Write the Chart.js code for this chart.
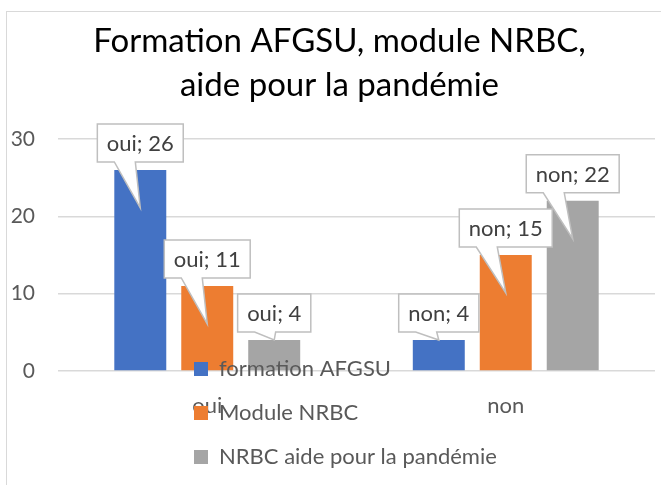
<!DOCTYPE html>
<html><head><meta charset="utf-8">
<script src="https://cdn.jsdelivr.net/npm/chart.js@4.4.1/dist/chart.umd.min.js"></script>
<style>
html,body{margin:0;padding:0;background:#fff;overflow:hidden;}
#wrap{position:relative;width:661px;height:485px;}
#frame{position:absolute;left:6px;top:11px;width:720px;height:540px;border:1.5px solid #d9d9d9;box-sizing:border-box;}
canvas{position:absolute;left:0;top:0;}
</style></head><body>
<div id="wrap"><div id="frame"></div><canvas id="c" width="661" height="485"></canvas></div>
<script>
const titleLines = ['Formation AFGSU, module NRBC,', 'aide pour la pandémie'];
const categories = ['oui', 'non'];
const seriesNames = ['formation AFGSU', 'Module NRBC', 'NRBC aide pour la pandémie'];
const formationAFGSU = [26, 4];
const moduleNRBC = [11, 15];
const nrbcPandemie = [4, 22];
const yTicks = [0, 10, 20, 30];
const seriesColors = ['#4472C4', '#ED7D31', '#A5A5A5'];

const FONT = 'Lato';

const calloutPlugin = {
  id: 'callouts',
  afterDatasetsDraw(chart) {
    const ctx = chart.ctx;
    ctx.save();
    ctx.font = '22px ' + FONT;
    chart.data.datasets.forEach((ds, i) => {
      const meta = chart.getDatasetMeta(i);
      meta.data.forEach((bar, j) => {
        const text = chart.data.labels[j] + '; ' + ds.data[j];
        const w = ctx.measureText(text).width + 19;
        const h = 38;
        const left = bar.x - w / 2, right = bar.x + w / 2;
        const bottom = bar.y - 8, top = bottom - h;
        const barH = bar.base - bar.y;
        const tipY = barH > 40 ? bar.y + 38 : bar.y;
        ctx.beginPath();
        ctx.moveTo(left, top);
        ctx.lineTo(right, top);
        ctx.lineTo(right, bottom);
        ctx.lineTo(left + 38, bottom);
        ctx.lineTo(bar.x, tipY);
        ctx.lineTo(left + 17, bottom);
        ctx.lineTo(left, bottom);
        ctx.closePath();
        ctx.fillStyle = '#ffffff';
        ctx.fill();
        ctx.strokeStyle = '#bfbfbf';
        ctx.lineWidth = 1.5;
        ctx.stroke();
        ctx.fillStyle = '#404040';
        ctx.textAlign = 'center';
        ctx.textBaseline = 'middle';
        ctx.fillText(text, bar.x, (top + bottom) / 2 + 1);
      });
    });
    ctx.restore();
  }
};

const legendPlace = {
  id: 'legendPlace',
  beforeUpdate(chart) {
    const lg = chart.legend;
    if (lg && !lg._onTop) {
      lg._onTop = true;
      lg._layers = () => [{ z: 1, draw: (ca) => lg.draw(ca) }];
    }
  },
  afterLayout(chart) {
    const lg = chart.legend;
    const ca = chart.chartArea;
    const w = lg.width, h = lg.height;
    lg.left = ca.left + 114;
    lg.top = ca.bottom - 35;
    lg.right = lg.left + w;
    lg.bottom = lg.top + h;
    const tb = chart.titleBlock;
    if (tb) { tb.left += 8; tb.right += 8; }
  }
};

new Chart(document.getElementById('c'), {
  type: 'bar',
  data: {
    labels: categories,
    datasets: [
      { label: seriesNames[0], data: formationAFGSU, backgroundColor: seriesColors[0] },
      { label: seriesNames[1], data: moduleNRBC, backgroundColor: seriesColors[1] },
      { label: seriesNames[2], data: nrbcPandemie, backgroundColor: seriesColors[2] }
    ]
  },
  options: {
    responsive: false,
    animation: false,
    events: [],
    datasets: { bar: { categoryPercentage: 0.673, barPercentage: 0.776, borderWidth: 0 } },
    layout: { padding: { left: 8, right: 6, top: 0, bottom: 0 } },
    plugins: {
      title: {
        display: true, text: titleLines, color: '#000000',
        font: { family: FONT, size: 33, weight: 'normal', lineHeight: 1.333 },
        padding: { top: 19.5, bottom: 31.5 }
      },
      legend: {
        position: 'chartArea', align: 'start',
        labels: { boxWidth: 14, boxHeight: 14, padding: 22, color: '#595959', font: { family: FONT, size: 22 } }
      },
      tooltip: { enabled: false }
    },
    scales: {
      x: {
        grid: { display: false }, border: { display: false },
        ticks: { color: '#595959', font: { family: FONT, size: 22 }, padding: 14 },
        afterFit: s => { s.height = 114; }
      },
      y: {
        min: 0, max: 30,
        afterBuildTicks: s => { s.ticks = yTicks.map(v => ({ value: v })); },
        ticks: { color: '#595959', font: { family: FONT, size: 21 }, padding: 23 },
        grid: { color: '#d9d9d9', lineWidth: 1.5, drawTicks: false },
        border: { display: false },
        afterFit: s => { s.width = 50; }
      }
    }
  },
  plugins: [calloutPlugin, legendPlace]
});
</script>
</body></html>
